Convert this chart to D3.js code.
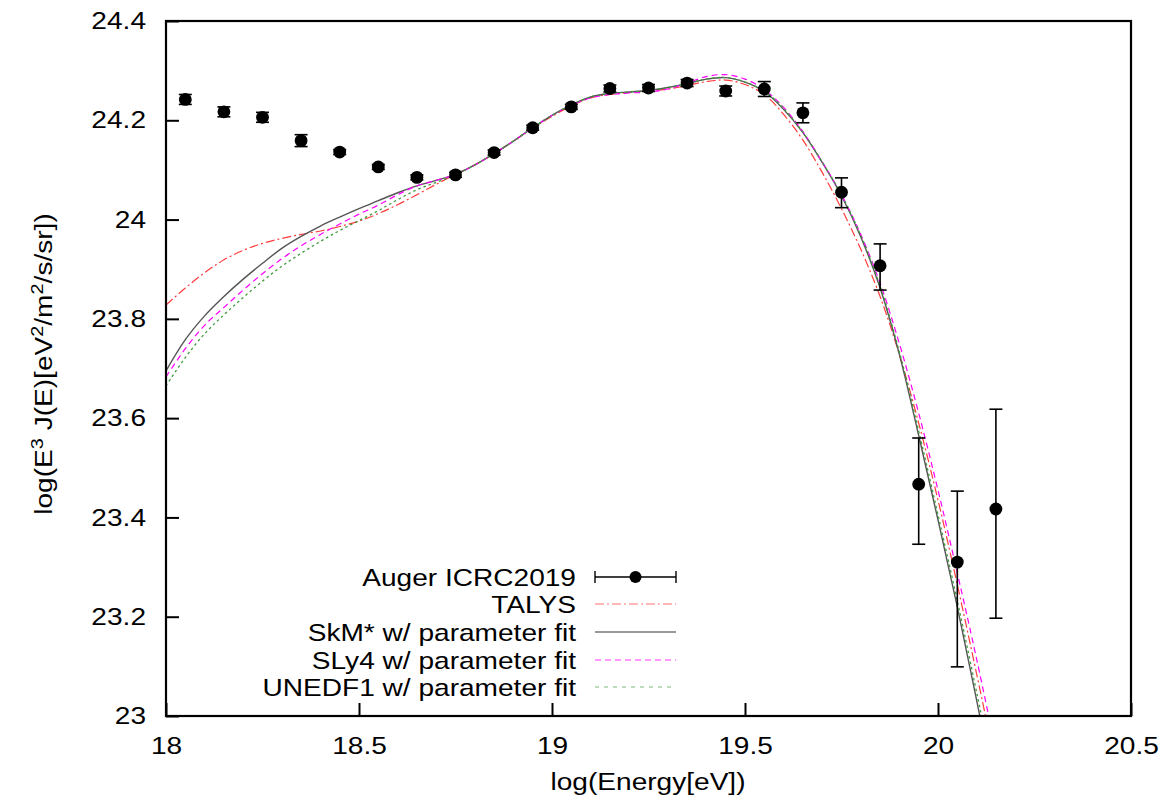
<!DOCTYPE html>
<html>
<head>
<meta charset="utf-8">
<script src="https://cdn.jsdelivr.net/npm/d3@7"></script>
<style>
  html, body { margin: 0; padding: 0; background: #fff; }
  svg { display: block; }
  text { font-family: "Liberation Sans", Arial, sans-serif; fill: #000; }
</style>
</head>
<body>
<svg id="chart" width="1165" height="803"></svg>
<script>
// ---------------- data ----------------
const xTickValues = [18, 18.5, 19, 19.5, 20, 20.5];
const xTickLabels = ["18", "18.5", "19", "19.5", "20", "20.5"];
const yTickValues = [23, 23.2, 23.4, 23.6, 23.8, 24, 24.2, 24.4];
const yTickLabels = ["23", "23.2", "23.4", "23.6", "23.8", "24", "24.2", "24.4"];

// Auger ICRC2019 data points
const augerE   = [18.05, 18.15, 18.25, 18.35, 18.45, 18.55, 18.65, 18.75, 18.85, 18.95, 19.05,
                  19.15, 19.25, 19.35, 19.45, 19.55, 19.65, 19.75, 19.85, 19.95, 20.05, 20.15];
const augerJ   = [24.242, 24.217, 24.206, 24.159, 24.136, 24.106, 24.085, 24.090, 24.135, 24.185, 24.227,
                  24.264, 24.265, 24.275, 24.259, 24.263, 24.215, 24.055, 23.907, 23.467, 23.310, 23.417];
const augerErrUp = [0.010, 0.010, 0.010, 0.012, 0.005, 0.005, 0.005, 0.005, 0.005, 0.005, 0.005,
                    0.007, 0.007, 0.007, 0.010, 0.015, 0.020, 0.029, 0.044, 0.093, 0.143, 0.201];
const augerErrDn = [0.010, 0.010, 0.010, 0.012, 0.005, 0.005, 0.005, 0.005, 0.005, 0.005, 0.005,
                    0.007, 0.007, 0.007, 0.010, 0.015, 0.020, 0.031, 0.049, 0.121, 0.211, 0.220];

// model curves, sampled on a common energy grid
const curveE = [18.00, 18.05, 18.10, 18.15, 18.20, 18.25, 18.30, 18.35, 18.40, 18.45, 18.50,
                18.55, 18.60, 18.65, 18.70, 18.75, 18.80, 18.85, 18.90, 18.95, 19.00, 19.05,
                19.10, 19.15, 19.20, 19.25, 19.30, 19.35, 19.40, 19.45, 19.50, 19.55, 19.60,
                19.65, 19.70, 19.75, 19.80, 19.85, 19.90, 19.95, 20.00, 20.05, 20.10, 20.15];

const talys = [23.828, 23.862, 23.893, 23.919, 23.938, 23.952, 23.962, 23.970, 23.977, 23.986, 23.997,
               24.012, 24.030, 24.050, 24.071, 24.091, 24.110, 24.133, 24.158, 24.184, 24.208, 24.229,
               24.245, 24.252, 24.256, 24.259, 24.263, 24.270, 24.278, 24.281, 24.272, 24.252, 24.212,
               24.160, 24.095, 24.022, 23.940, 23.845, 23.728, 23.590, 23.435, 23.265, 23.085, 22.900];

const skm = [23.695, 23.758, 23.806, 23.845, 23.880, 23.912, 23.942, 23.966, 23.987, 24.005, 24.022,
             24.038, 24.054, 24.068, 24.079, 24.091, 24.110, 24.133, 24.158, 24.185, 24.210, 24.231,
             24.247, 24.254, 24.257, 24.260, 24.266, 24.274, 24.283, 24.286, 24.277, 24.258, 24.222,
             24.175, 24.115, 24.048, 23.965, 23.862, 23.728, 23.565, 23.395, 23.220, 23.032, 22.840];

const sly4 = [23.683, 23.740, 23.787, 23.823, 23.858, 23.891, 23.921, 23.947, 23.970, 23.991, 24.011,
              24.029, 24.050, 24.068, 24.079, 24.091, 24.110, 24.133, 24.158, 24.185, 24.210, 24.230,
              24.245, 24.252, 24.255, 24.257, 24.263, 24.275, 24.288, 24.292, 24.283, 24.262, 24.226,
              24.177, 24.116, 24.050, 23.970, 23.872, 23.750, 23.610, 23.455, 23.288, 23.115, 22.930];

const unedf1 = [23.665, 23.722, 23.770, 23.808, 23.843, 23.876, 23.906, 23.932, 23.956, 23.978, 23.998,
                24.018, 24.040, 24.060, 24.075, 24.090, 24.110, 24.133, 24.158, 24.185, 24.210, 24.231,
                24.247, 24.254, 24.257, 24.260, 24.266, 24.274, 24.283, 24.286, 24.277, 24.259, 24.224,
                24.176, 24.116, 24.050, 23.968, 23.866, 23.733, 23.574, 23.405, 23.232, 23.048, 22.860];

const seriesNames = ["TALYS", "SkM* w/ parameter fit", "SLy4 w/ parameter fit", "UNEDF1 w/ parameter fit"];
const seriesValues = [talys, skm, sly4, unedf1];

// ---------------- styles ----------------
const styles = [
  { color: "#ff3b3b", width: 1.2, dash: "9,3,2,3" },
  { color: "#555555", width: 1.4, dash: null },
  { color: "#ff00ff", width: 1.2, dash: "6,4" },
  { color: "#3f9a3f", width: 1.3, dash: "2.5,3" }
];
const legendStyles = [
  { color: "#ff7070", width: 1.2, dash: "9,3,2,3" },
  { color: "#999999", width: 2, dash: null },
  { color: "#ff33ff", width: 1.2, dash: "6,4" },
  { color: "#a8d0a8", width: 1.5, dash: "4,5" }
];

const SX = 1.17;      // horizontal stretch of the lettering
const FONT = 24;

// ---------------- layout ----------------
const svg = d3.select("#chart");
const L = 166, R = 1131, T = 21, B = 716;
const x = d3.scaleLinear().domain([18, 20.5]).range([L, R]);
const y = d3.scaleLinear().domain([23, 24.4]).range([B, T]);

svg.append("defs").append("clipPath").attr("id", "plotclip")
  .append("rect").attr("x", L).attr("y", T).attr("width", R - L).attr("height", B - T);

// axes
const xAxis = d3.axisBottom(x)
  .tickValues(xTickValues)
  .tickFormat((d, i) => xTickLabels[i])
  .tickSizeInner(-13).tickSizeOuter(0).tickPadding(21);
const gx = svg.append("g").attr("transform", `translate(0,${B})`).call(xAxis);
gx.select(".domain").remove();
gx.selectAll(".tick line").attr("stroke", "#000").attr("stroke-width", 2);
gx.selectAll(".tick text").attr("font-size", FONT).attr("transform", `scale(${SX},1)`)
  .attr("font-family", "Liberation Sans, Arial, sans-serif");

const yAxis = d3.axisLeft(y)
  .tickValues(yTickValues)
  .tickFormat((d, i) => yTickLabels[i])
  .tickSizeInner(-13).tickSizeOuter(0).tickPadding(20 / SX);
const gy = svg.append("g").attr("transform", `translate(${L},0)`).call(yAxis);
gy.select(".domain").remove();
gy.selectAll(".tick line").attr("stroke", "#000").attr("stroke-width", 2);
gy.selectAll(".tick text").attr("font-size", FONT).attr("transform", `scale(${SX},1)`)
  .attr("font-family", "Liberation Sans, Arial, sans-serif");

// curves
const plot = svg.append("g").attr("clip-path", "url(#plotclip)");
const line = d3.line().x(d => x(d[0])).y(d => y(d[1])).curve(d3.curveCatmullRom.alpha(0.5));
seriesValues.forEach((vals, k) => {
  const pts = curveE.map((e, i) => [e, vals[i]]);
  plot.append("path").datum(pts)
    .attr("d", line)
    .attr("fill", "none")
    .attr("stroke", styles[k].color)
    .attr("stroke-width", styles[k].width)
    .attr("stroke-dasharray", styles[k].dash);
});

// data points with error bars
const capW = 6.5, dotR = 6.4;
const pg = plot.append("g");
augerE.forEach((e, i) => {
  const cx = x(e), cy = y(augerJ[i]);
  const yt = y(augerJ[i] + augerErrUp[i]), yb = y(augerJ[i] - augerErrDn[i]);
  pg.append("line").attr("x1", cx).attr("x2", cx).attr("y1", yt).attr("y2", yb)
    .attr("stroke", "#000").attr("stroke-width", 1.6);
  pg.append("line").attr("x1", cx - capW).attr("x2", cx + capW).attr("y1", yt).attr("y2", yt)
    .attr("stroke", "#000").attr("stroke-width", 1.6);
  pg.append("line").attr("x1", cx - capW).attr("x2", cx + capW).attr("y1", yb).attr("y2", yb)
    .attr("stroke", "#000").attr("stroke-width", 1.6);
  pg.append("circle").attr("cx", cx).attr("cy", cy).attr("r", dotR).attr("fill", "#000");
});

// frame
svg.append("rect").attr("x", L).attr("y", T).attr("width", R - L).attr("height", B - T)
  .attr("fill", "none").attr("stroke", "#000").attr("stroke-width", 2.2);

// stretched text helper
function label(g, tx, ty, str, anchor) {
  return g.append("text")
    .attr("transform", `translate(${tx},${ty}) scale(${SX},1)`)
    .attr("text-anchor", anchor)
    .attr("font-size", FONT)
    .text(str);
}

// axis titles
label(svg, 648, 790, "log(Energy[eV])", "middle");
const yt = svg.append("text")
  .attr("transform", `translate(52,364) rotate(-90) scale(${SX},1)`)
  .attr("text-anchor", "middle")
  .attr("font-size", FONT);
yt.append("tspan").text("log(E");
yt.append("tspan").attr("dy", -9).attr("font-size", 17).text("3");
yt.append("tspan").attr("dy", 9).text(" J(E)[eV");
yt.append("tspan").attr("dy", -9).attr("font-size", 17).text("2");
yt.append("tspan").attr("dy", 9).text("/m");
yt.append("tspan").attr("dy", -9).attr("font-size", 17).text("2");
yt.append("tspan").attr("dy", 9).text("/s/sr])");

// legend
const lg = svg.append("g");
const legendNames = ["Auger ICRC2019"].concat(seriesNames);
const rowY = [577, 604, 632, 660, 687];
const textRight = 576, sx0 = 595, sx1 = 676;
legendNames.forEach((n, i) => {
  label(lg, textRight, rowY[i] + 8.5, n, "end");
});
// Auger legend sample
lg.append("line").attr("x1", sx0).attr("x2", sx1).attr("y1", rowY[0]).attr("y2", rowY[0])
  .attr("stroke", "#000").attr("stroke-width", 1.4);
[sx0, sx1].forEach(xx => lg.append("line").attr("x1", xx).attr("x2", xx)
  .attr("y1", rowY[0] - 6).attr("y2", rowY[0] + 6).attr("stroke", "#000").attr("stroke-width", 1.4));
lg.append("circle").attr("cx", (sx0 + sx1) / 2).attr("cy", rowY[0]).attr("r", 6).attr("fill", "#000");
legendStyles.forEach((s, k) => {
  lg.append("line").attr("x1", sx0).attr("x2", sx1).attr("y1", rowY[k + 1]).attr("y2", rowY[k + 1])
    .attr("stroke", s.color).attr("stroke-width", s.width).attr("stroke-dasharray", s.dash);
});
</script>
</body>
</html>
